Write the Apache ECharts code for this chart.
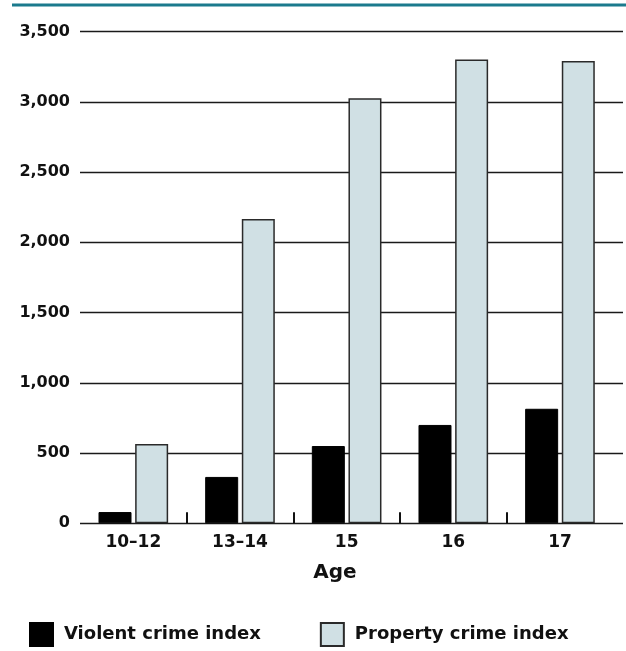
<!DOCTYPE html>
<html>
<head>
<meta charset="utf-8">
<script src="https://cdn.jsdelivr.net/npm/echarts@6/dist/echarts.min.js"></script>
<style>
  html, body { margin: 0; padding: 0; background: #fff; }
  #chart { width: 626px; height: 651px; }
</style>
</head>
<body>
<div id="chart"></div>
<script>
// Crime index by age group
const ages = ['10\u201312', '13\u201314', '15', '16', '17'];
const violentIndex = [80, 330, 550, 700, 815];
const propertyIndex = [565, 2165, 3025, 3300, 3290];
const yTicks = [0, 500, 1000, 1500, 2000, 2500, 3000, 3500];
// boundaries between age groups, in category units
const groupBoundaries = [1, 2, 3, 4];

const FONT = '"DejaVu Sans", sans-serif';
const INK = '#111';
const LIGHT = '#d0e0e4';
const EDGE = '#2a2a2a';

const chart = echarts.init(document.getElementById('chart'), null, { renderer: 'canvas' });

const yMin = yTicks[0];
const yMax = yTicks[yTicks.length - 1];
const yStep = yTicks[1] - yTicks[0];

chart.setOption({
  animation: false,
  backgroundColor: '#fff',
  grid: [
    // wide grid carrying the horizontal rules and value labels
    { left: 80, right: 3, top: 31.5, bottom: 127.7, containLabel: false },
    // narrower grid carrying the bars
    { left: 80, width: 533.3, top: 31.5, bottom: 127.7, containLabel: false }
  ],
  xAxis: [
    { type: 'value', gridIndex: 0, min: 0, max: 1, show: false },
    {
      type: 'category', gridIndex: 1, data: ages,
      axisLine: { show: false },
      axisTick: { show: false },
      splitLine: { show: false },
      axisLabel: {
        margin: 11,
        color: INK,
        fontFamily: FONT,
        fontWeight: 'bold',
        fontSize: 17
      }
    },
    {
      type: 'value', gridIndex: 1, min: 0, max: ages.length,
      position: 'bottom',
      axisLine: { show: false },
      splitLine: { show: false },
      axisLabel: { show: false },
      axisTick: {
        show: true,
        inside: true,
        length: 11,
        customValues: groupBoundaries,
        lineStyle: { color: '#111', width: 2 }
      }
    }
  ],
  yAxis: [
    {
      type: 'value', gridIndex: 0, min: yMin, max: yMax, interval: yStep,
      axisLine: { show: false },
      axisTick: { show: false },
      splitLine: { show: true, lineStyle: { color: '#1a1a1a', width: 1.3 } },
      axisLabel: {
        margin: 10,
        color: INK,
        fontFamily: FONT,
        fontWeight: 'bold',
        fontSize: 16,
        formatter: v => v.toLocaleString('en-US')
      }
    },
    { type: 'value', gridIndex: 1, min: yMin, max: yMax, interval: yStep, show: false }
  ],
  legend: {
    left: 29,
    top: 622,
    padding: 0,
    itemWidth: 23,
    itemHeight: 23,
    itemGap: 59,
    icon: 'rect',
    textStyle: {
      color: INK,
      fontFamily: FONT,
      fontWeight: 'bold',
      fontSize: 18,
      padding: [0, 0, 0, 6]
    },
    data: ['Violent crime index', 'Property crime index']
  },
  graphic: [
    {
      type: 'line',
      shape: { x1: 12, y1: 5, x2: 626, y2: 5 },
      style: { stroke: '#1b7a8d', lineWidth: 3 }
    },
    {
      type: 'text',
      style: {
        x: 335, y: 573, text: 'Age',
        align: 'center', verticalAlign: 'middle',
        fill: INK, font: 'bold 20px "DejaVu Sans", sans-serif'
      }
    }
  ],
  series: [
    {
      name: 'Violent crime index',
      type: 'bar',
      xAxisIndex: 1, yAxisIndex: 1,
      data: violentIndex,
      barWidth: 33,
      barGap: '11%',
      itemStyle: { color: '#000', borderColor: '#000', borderWidth: 1 }
    },
    {
      name: 'Property crime index',
      type: 'bar',
      xAxisIndex: 1, yAxisIndex: 1,
      data: propertyIndex,
      barWidth: 33,
      barGap: '11%',
      itemStyle: { color: LIGHT, borderColor: EDGE, borderWidth: 1.5 }
    }
  ]
});
</script>
</body>
</html>
